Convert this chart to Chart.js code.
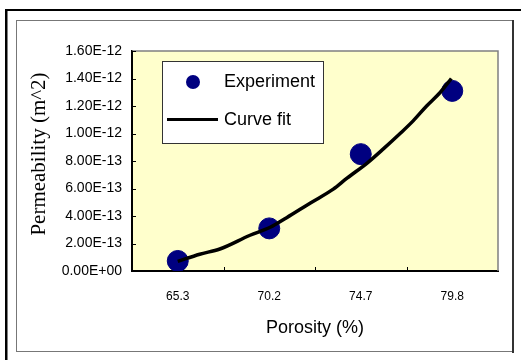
<!DOCTYPE html>
<html>
<head>
<meta charset="utf-8">
<script src="https://cdn.jsdelivr.net/npm/chart.js@4.4.1/dist/chart.umd.min.js"></script>
<style>
  html, body { margin: 0; background: #fff; }
  canvas { display: block; }
</style>
</head>
<body>
<canvas id="permChart" width="521" height="360"></canvas>
<script>
// porosity classes and measured permeability
const porosity = ["65.3", "70.2", "74.7", "79.8"];
const permeability = [7.3e-14, 3.1e-13, 8.5e-13, 1.31e-12];

// fitted curve, positions in category units along the porosity axis
const fitPosition = [0, 0.24, 0.46, 0.79, 1.01, 1.19, 1.45, 1.70, 1.85, 2.07, 2.25, 2.43, 2.57, 2.72, 2.87, 2.99];
const fitPermeability = [7.0e-14, 1.22e-13, 1.6e-13, 2.6e-13, 3.18e-13, 3.88e-13, 4.95e-13, 5.95e-13, 6.75e-13,
  7.85e-13, 8.9e-13, 1.0e-12, 1.09e-12, 1.2e-12, 1.30e-12, 1.40e-12];

const yTicks = [0, 2e-13, 4e-13, 6e-13, 8e-13, 1e-12, 1.2e-12, 1.4e-12, 1.6e-12];

function sci(v) {
  if (v === 0) return "0.00E+00";
  const [m, e] = v.toExponential(2).split("e");
  const n = parseInt(e, 10);
  return m + "E" + (n < 0 ? "-" : "+") + String(Math.abs(n)).padStart(2, "0");
}

const framePlugin = {
  id: "frame",
  beforeDraw(chart) {
    const { ctx, chartArea: a } = chart;
    ctx.save();
    ctx.fillStyle = "#fff";
    ctx.fillRect(0, 0, chart.width, chart.height);

    // outer frame (top + left)
    ctx.fillStyle = "#000";
    ctx.fillRect(5, 9, 2.5, 351);
    ctx.fillRect(5, 9, 516, 2);

    // inner chart frame
    ctx.strokeStyle = "#777";
    ctx.lineWidth = 1;
    ctx.strokeRect(16.5, 20.5, 496, 331);
    ctx.fillStyle = "#333";
    ctx.fillRect(512, 20, 2, 333);

    // plot background
    ctx.fillStyle = "#ffffcc";
    ctx.fillRect(a.left, a.top, a.right - a.left, a.bottom - a.top);
    ctx.restore();
  },
  beforeDatasetsDraw(chart) {
    const { ctx, chartArea: a, scales } = chart;
    ctx.save();
    // top and right edges of the plot
    ctx.strokeStyle = "#808080";
    ctx.lineWidth = 1.5;
    ctx.beginPath();
    ctx.moveTo(a.left, a.top);
    ctx.lineTo(a.right, a.top);
    ctx.lineTo(a.right, a.bottom);
    ctx.stroke();

    // tick marks pointing into the plot
    ctx.strokeStyle = "#000";
    ctx.lineWidth = 1;
    ctx.beginPath();
    yTicks.forEach((v) => {
      const y = Math.round(scales.y.getPixelForValue(v)) + 0.5;
      ctx.moveTo(a.left, y);
      ctx.lineTo(a.left + 4, y);
    });
    porosity.slice(1).forEach((_, i) => {
      const x = Math.round(scales.x.getPixelForValue(i + 0.5)) + 0.5;
      ctx.moveTo(x, a.bottom);
      ctx.lineTo(x, a.bottom - 4);
    });
    ctx.stroke();
    ctx.restore();
  },
  afterDraw(chart) {
    const { ctx, chartArea: a } = chart;
    ctx.save();
    ctx.fillStyle = "#000";
    ctx.textAlign = "center";
    ctx.textBaseline = "middle";

    // axis titles
    ctx.font = "18px 'Liberation Sans', Arial, sans-serif";
    ctx.fillText("Porosity (%)", (a.left + a.right) / 2, 328);
    ctx.translate(39, 154);
    ctx.rotate(-Math.PI / 2);
    ctx.font = "21px 'Liberation Serif', 'Times New Roman', serif";
    ctx.fillText("Permeability (m^2)", 0, 0);
    ctx.restore();

    // legend box
    const [fit, exp] = chart.data.datasets;
    ctx.save();
    ctx.fillStyle = "#fff";
    ctx.fillRect(162, 61, 161, 82);
    ctx.strokeStyle = "#333";
    ctx.lineWidth = 1;
    ctx.strokeRect(162.5, 61.5, 161, 82);

    ctx.fillStyle = exp.backgroundColor;
    ctx.beginPath();
    ctx.arc(193, 82, 7, 0, Math.PI * 2);
    ctx.fill();

    ctx.strokeStyle = fit.borderColor;
    ctx.lineWidth = 3;
    ctx.beginPath();
    ctx.moveTo(167, 119.5);
    ctx.lineTo(218, 119.5);
    ctx.stroke();

    ctx.fillStyle = "#000";
    ctx.font = "18px 'Liberation Sans', Arial, sans-serif";
    ctx.textBaseline = "middle";
    ctx.fillText(exp.label, 224, 82);
    ctx.fillText(fit.label, 224, 120);
    ctx.restore();
  },
};

new Chart(document.getElementById("permChart"), {
  type: "scatter",
  data: {
    datasets: [
      {
        type: "line",
        label: "Curve fit",
        data: fitPosition.map((x, i) => ({ x, y: fitPermeability[i] })),
        borderColor: "#000",
        borderWidth: 3.5,
        pointRadius: 0,
        cubicInterpolationMode: "monotone",
        fill: false,
        order: 0,
      },
      {
        label: "Experiment",
        data: permeability.map((y, i) => ({ x: i, y })),
        backgroundColor: "#000080",
        borderColor: "#000080",
        pointRadius: 10.5,
        pointHoverRadius: 10.5,
        order: 1,
      },
    ],
  },
  options: {
    responsive: false,
    animation: false,
    events: [],
    layout: { padding: { left: 0, top: 51, right: 23, bottom: 0 } },
    plugins: { legend: { display: false }, tooltip: { enabled: false } },
    scales: {
      x: {
        type: "linear",
        min: -0.5,
        max: 3.5,
        afterBuildTicks: (scale) => { scale.ticks = porosity.map((_, i) => ({ value: i })); },
        afterFit: (scale) => { scale.height = 89; },
        ticks: {
          callback: (v) => porosity[v],
          color: "#000",
          padding: 18,
          maxRotation: 0,
          font: { family: "'Liberation Sans', Arial, sans-serif", size: 12 },
        },
        grid: { drawOnChartArea: false, drawTicks: false },
        border: { display: true, color: "#000", width: 2 },
      },
      y: {
        min: 0,
        max: 1.6e-12,
        afterBuildTicks: (scale) => { scale.ticks = yTicks.map((value) => ({ value })); },
        afterFit: (scale) => { scale.width = 132; },
        ticks: {
          callback: (v) => sci(v),
          color: "#000",
          padding: 10,
          font: { family: "'Liberation Sans', Arial, sans-serif", size: 14 },
        },
        grid: { drawOnChartArea: false, drawTicks: false },
        border: { display: true, color: "#000", width: 2 },
      },
    },
  },
  plugins: [framePlugin],
});
</script>
</body>
</html>
